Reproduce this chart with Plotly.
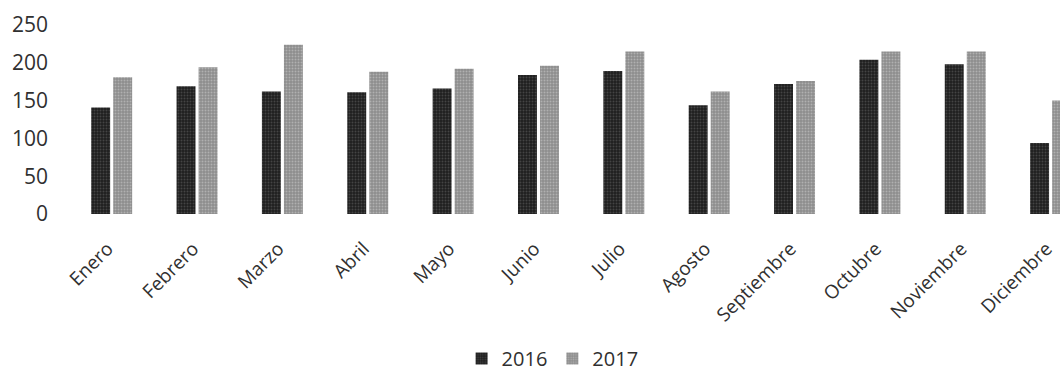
"""Monthly bar chart, 2016 vs 2017."""

import plotly.graph_objects as go

MONTHS = [
    "Enero", "Febrero", "Marzo", "Abril", "Mayo", "Junio",
    "Julio", "Agosto", "Septiembre", "Octubre", "Noviembre", "Diciembre",
]
VALUES_2016 = [141, 169, 162, 161, 166, 184, 189, 144, 172, 204, 198, 94]
VALUES_2017 = [181, 194, 224, 188, 192, 196, 215, 162, 176, 215, 215, 150]
Y_TICKS = [0, 50, 100, 150, 200, 250]

FONT = "Open Sans, Noto Sans, sans-serif"
TEXT_COLOR = "#303030"


def _bar(name, values, color, dot_color):
    return go.Bar(
        x=MONTHS,
        y=values,
        name=name,
        marker={
            "color": color,
            "line": {"width": 0},
            "pattern": {
                "shape": ".",
                "fgcolor": dot_color,
                "bgcolor": color,
                "size": 3,
                "solidity": 0.35,
            },
        },
    )


fig = go.Figure()
fig.add_trace(_bar("2016", VALUES_2016, "#1e1e1e", "#6a6a6a"))
fig.add_trace(_bar("2017", VALUES_2017, "#8c8c8c", "#d4d4d4"))

fig.update_layout(
    width=1060,
    height=378,
    margin={"l": 69, "r": 0, "t": 25, "b": 164, "autoexpand": False},
    paper_bgcolor="white",
    plot_bgcolor="white",
    barmode="group",
    bargap=0.484,
    bargroupgap=0.14,
    font={"family": FONT, "size": 21, "color": TEXT_COLOR},
    showlegend=True,
    legend={
        "orientation": "h",
        "x": 0.488,
        "xanchor": "center",
        "yref": "container",
        "y": 0,
        "yanchor": "bottom",
        "font": {"size": 20},
        "itemwidth": 30,
    },
)
fig.update_xaxes(
    type="category",
    range=[-0.5, 11.11],
    tickangle=-45,
    tickfont={"size": 19},
    showgrid=False,
    showline=False,
    zeroline=False,
    ticks="",
    ticklabelstandoff=19,
    ticklabelshift=-4,
    automargin=False,
)
fig.update_yaxes(
    range=[0, 250],
    tickvals=Y_TICKS,
    showgrid=False,
    showline=False,
    zeroline=False,
    ticks="",
    ticklabelstandoff=20,
    automargin=False,
)

# page body has a default 8px margin; drop it so the figure sits at 0,0
fig.write_html(
    "out.html",
    config={"displayModeBar": False},
    post_script="document.body.style.margin = '0';",
)
